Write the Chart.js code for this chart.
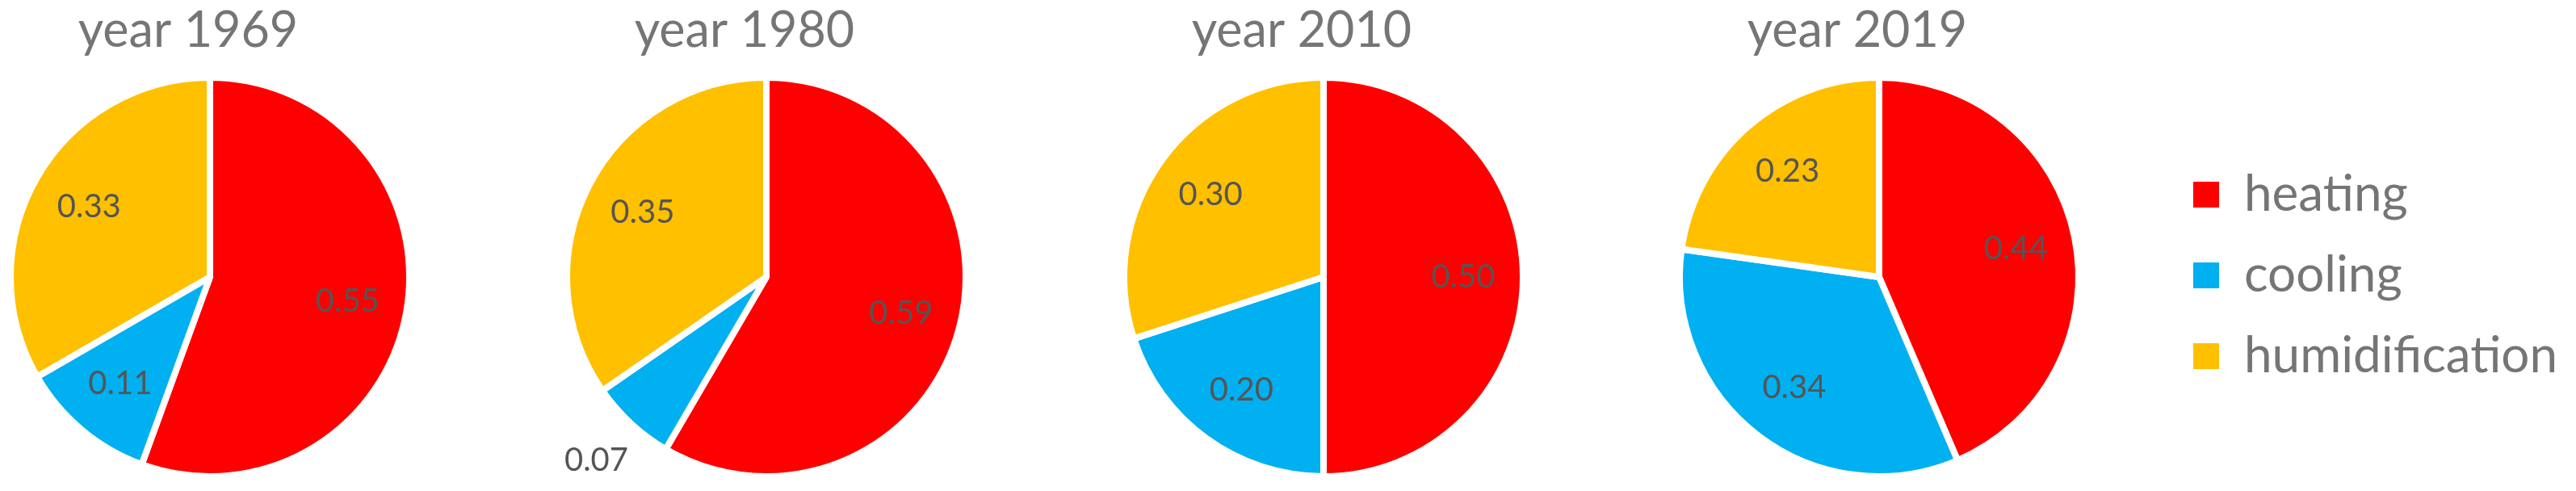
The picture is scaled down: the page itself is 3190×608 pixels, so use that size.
<!DOCTYPE html>
<html>
<head>
<meta charset="utf-8">
<script src="https://cdn.jsdelivr.net/npm/chart.js@4.4.1/dist/chart.umd.min.js"></script>
<style>
  html, body { margin: 0; padding: 0; background: #ffffff; overflow: hidden; }
  #wrap { position: relative; width: 3190px; height: 608px; overflow: hidden; background: #ffffff; }
  canvas { position: absolute; top: 0; }
</style>
</head>
<body>
<div id="wrap">
  <canvas id="c1"></canvas>
  <canvas id="c2"></canvas>
  <canvas id="c3"></canvas>
  <canvas id="c4"></canvas>
  <canvas id="cLegend"></canvas>
</div>
<script>
// ---- data ----
const categories = ['heating', 'cooling', 'humidification'];
const years = ['year 1969', 'year 1980', 'year 2010', 'year 2019'];
const values1969 = [0.55, 0.11, 0.33];
const values1980 = [0.59, 0.07, 0.35];
const values2010 = [0.50, 0.20, 0.30];
const values2019 = [0.44, 0.34, 0.23];
const seriesByYear = [values1969, values1980, values2010, values2019];
const sliceColors = ['#FF0000', '#00B0F0', '#FFC000'];

// ---- layout (pixels) ----
const pieCentersX = [260, 949, 1639, 2327];
const CANVAS_W = 560, CANVAS_H = 608;

Chart.defaults.font.family = 'Lato';
Chart.defaults.animation = false;

const yearTitle = {
  id: 'yearTitle',
  afterDraw(chart, args, opts) {
    if (!opts || !opts.text) return;
    const ctx = chart.ctx, a = chart.chartArea;
    ctx.save();
    ctx.font = opts.size + 'px Lato';
    ctx.fillStyle = opts.color;
    ctx.textAlign = 'center';
    ctx.textBaseline = 'alphabetic';
    ctx.fillText(opts.text, (a.left + a.right) / 2 + opts.dx, opts.y);
    ctx.restore();
  }
};

const sliceLabels = {
  id: 'sliceLabels',
  afterDatasetsDraw(chart, args, opts) {
    if (!opts || !opts.display) return;
    const ctx = chart.ctx;
    const ds = chart.data.datasets[0];
    const meta = chart.getDatasetMeta(0);
    ctx.save();
    ctx.font = opts.size + 'px Lato';
    ctx.fillStyle = opts.color;
    ctx.textAlign = 'center';
    ctx.textBaseline = 'middle';
    meta.data.forEach((arc, i) => {
      const p = arc.getProps(['x', 'y', 'startAngle', 'endAngle', 'outerRadius'], true);
      const mid = (p.startAngle + p.endAngle) / 2;
      const v = ds.data[i];
      const r = v < 0.1 ? p.outerRadius + 63 : p.outerRadius * 0.70;
      ctx.fillText(v.toFixed(2), p.x + Math.cos(mid) * r, p.y + Math.sin(mid) * r);
    });
    ctx.restore();
  }
};

function makePie(id, idx) {
  const cv = document.getElementById(id);
  cv.width = CANVAS_W; cv.height = CANVAS_H;
  cv.style.width = CANVAS_W + 'px'; cv.style.height = CANVAS_H + 'px';
  cv.style.left = (pieCentersX[idx] - CANVAS_W / 2) + 'px';
  new Chart(cv, {
    type: 'pie',
    data: {
      labels: categories,
      datasets: [{
        data: seriesByYear[idx],
        backgroundColor: sliceColors,
        borderColor: '#ffffff',
        borderWidth: 8
      }]
    },
    options: {
      responsive: false,
      animation: false,
      events: [],
      layout: { padding: { top: 92, bottom: 14, left: 29, right: 29 } },
      plugins: {
        legend: { display: false },
        title: { display: false },
        tooltip: { enabled: false },
        yearTitle: { text: years[idx], size: 61, color: '#757575', dx: -27, y: 58 },
        sliceLabels: { display: true, size: 40, color: '#555555' }
      }
    },
    plugins: [yearTitle, sliceLabels]
  });
}

makePie('c1', 0);
makePie('c2', 1);
makePie('c3', 2);
makePie('c4', 3);

// legend-only chart (pie itself not drawn)
(function () {
  const cv = document.getElementById('cLegend');
  const W = 1100;
  cv.width = W; cv.height = CANVAS_H;
  cv.style.width = W + 'px'; cv.style.height = CANVAS_H + 'px';
  cv.style.left = '2678px';
  new Chart(cv, {
    type: 'pie',
    data: {
      labels: categories,
      datasets: [{ data: values2019, backgroundColor: sliceColors, borderWidth: 0 }]
    },
    options: {
      responsive: false,
      animation: false,
      events: [],
      layout: { padding: { top: 74, bottom: 0, left: 0, right: 0 } },
      plugins: {
        tooltip: { enabled: false },
        legend: {
          display: true,
          position: 'left',
          align: 'center',
          labels: {
            boxWidth: 32,
            boxHeight: 32,
            padding: 38,
            color: '#757575',
            font: { family: 'Lato', size: 62 }
          }
        }
      }
    },
    plugins: [{ id: 'hidePie', beforeDatasetsDraw() { return false; } }]
  });
})();
</script>
</body>
</html>
